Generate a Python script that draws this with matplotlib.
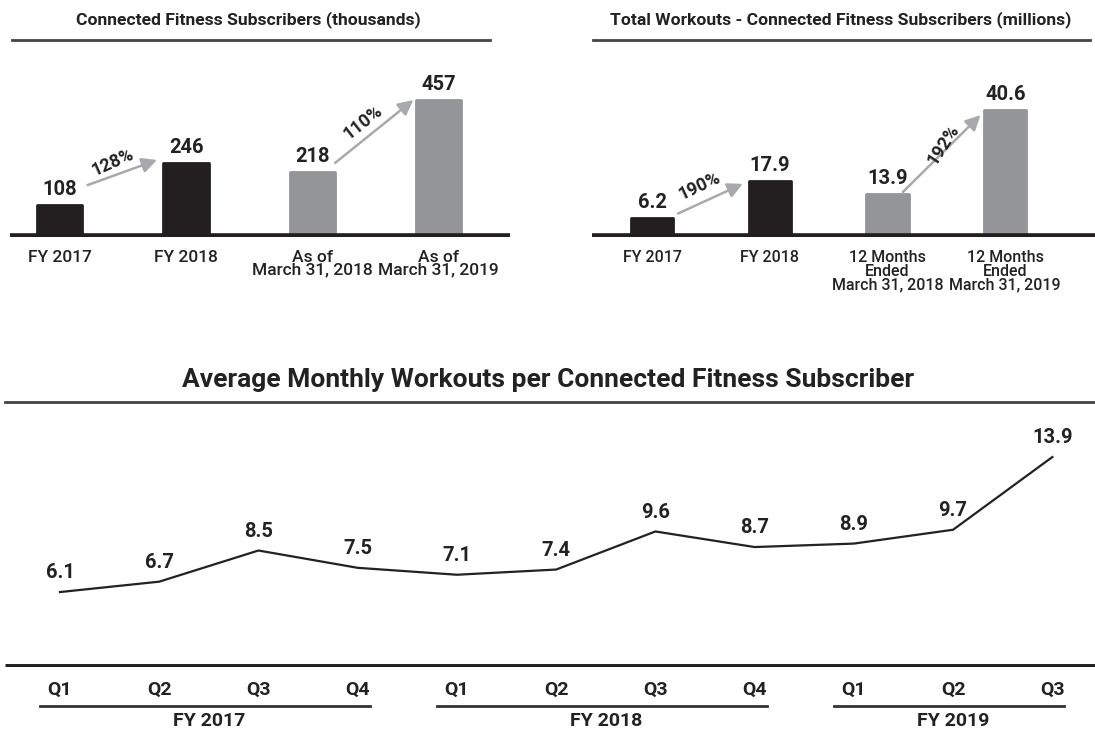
import matplotlib.pyplot as plt
import matplotlib.transforms as mtransforms

# --- 1. DATA ---
subs_labels = ['FY 2017', 'FY 2018', 'As of\nMarch 31, 2018', 'As of\nMarch 31, 2019']
subs_values = [108, 246, 218, 457]
subs_growth = ['128%', '110%']

workout_labels = ['FY 2017', 'FY 2018', '12 Months\nEnded\nMarch 31, 2018',
                  '12 Months\nEnded\nMarch 31, 2019']
workout_values = [6.2, 17.9, 13.9, 40.6]
workout_growth = ['190%', '192%']

quarters = ['Q1', 'Q2', 'Q3', 'Q4', 'Q1', 'Q2', 'Q3', 'Q4', 'Q1', 'Q2', 'Q3']
avg_workouts = [6.1, 6.7, 8.5, 7.5, 7.1, 7.4, 9.6, 8.7, 8.9, 9.7, 13.9]
fiscal_years = ['FY 2017', 'FY 2018', 'FY 2019']
quarters_per_year = [4, 4, 3]

# --- 2. STYLE ---
plt.rcParams['font.family'] = ['Roboto', 'DejaVu Sans']
DARK = '#231f20'
GREY = '#939598'
ARROW = '#a7a9ac'
TXT = '#222222'
bar_colors = [DARK, DARK, GREY, GREY]

W, H = 1095, 733
fig = plt.figure(figsize=(W / 100, H / 100), dpi=100)


def px_axes(x0, y0, x1, y1):
    return fig.add_axes([x0 / W, 1 - y1 / H, (x1 - x0) / W, (y1 - y0) / H])


def bar_panel(ax, labels, values, growth, ymax, xlim, line_span, arrows,
              label_size, spacing):
    x = range(len(values))
    ax.bar(x, values, width=0.36, color=bar_colors, edgecolor=bar_colors,
           linewidth=2, joinstyle='round', zorder=2)
    ax.set_xlim(*xlim)
    ax.set_ylim(0, ymax)
    for s in ax.spines.values():
        s.set_visible(False)
    ax.set_yticks([])
    ax.set_xticks(list(x))
    ax.set_xticklabels(labels, fontsize=label_size, color=TXT, linespacing=spacing,
                       fontweight='medium')
    ax.tick_params(axis='x', length=0, pad=9)
    ax.axhline(0, color=DARK, lw=5.5, zorder=3, solid_capstyle='butt')
    ax.plot(line_span, [1, 1], transform=ax.transAxes, clip_on=False,
            color='#444444', lw=2)
    for i, v in enumerate(values):
        ax.annotate(f'{v:g}', (i, v), xytext=(0, 11), textcoords='offset points',
                    ha='center', va='center', fontsize=14.5, fontweight='bold', color=TXT)
    for (i, j, sdx, sdy, edx, edy, tdx, tdy, rot), pct in zip(arrows, growth):
        ax.annotate('', xy=(j + edx, values[j] + edy), xytext=(i + sdx, values[i] + sdy),
                    arrowprops=dict(arrowstyle='-|>,head_length=0.9,head_width=0.45',
                                    color=ARROW, lw=1.8, shrinkA=0, shrinkB=0))
        ax.text(i + tdx, values[i] + tdy, pct, rotation=rot, ha='center', va='center',
                fontsize=13, fontweight='bold', color=TXT, rotation_mode='anchor')


# --- 3. TOP LEFT ---
ax1 = px_axes(10, 40, 510, 237)
bar_panel(ax1, subs_labels, subs_values, subs_growth, 657, (-0.394, 3.565), (0.004, 0.96),
          [(0, 1, 0.22, 65, -0.23, 11, 0.42, 140, 24),
           (2, 3, 0.18, 29, -0.2, 0, 0.4, 165, 38)], 12.5, 0.8)
fig.text(248 / W, 1 - 20 / H, 'Connected Fitness Subscribers (thousands)',
         ha='center', va='center', fontsize=12.6, fontweight='bold', color=TXT)

# --- 4. TOP RIGHT ---
ax2 = px_axes(592, 40, 1095, 237)
bar_panel(ax2, workout_labels, workout_values, workout_growth, 63, (-0.511, 3.762),
          (0.002, 0.99),
          [(0, 1, 0.22, 1.3, -0.23, -0.9, 0.4, 10.0, 25),
           (2, 3, 0.13, 0.5, -0.21, -1.6, 0.47, 15.5, 57)], 11.5, 0.92)
fig.text(841 / W, 1 - 20 / H, 'Total Workouts - Connected Fitness Subscribers (millions)',
         ha='center', va='center', fontsize=12.6, fontweight='bold', color=TXT)

# --- 5. BOTTOM LINE CHART ---
ax3 = px_axes(5, 402, 1095, 667)
xs = list(range(len(avg_workouts)))
ax3.plot(xs, avg_workouts, color=TXT, lw=1.6)
for xi, v in zip(xs, avg_workouts):
    ax3.annotate(f'{v:.1f}', (xi, v), xytext=(0, 14), textcoords='offset points',
                 ha='center', va='center', fontsize=14.5, fontweight='bold', color=TXT)
ax3.set_xlim(-0.554, 10.43)
ax3.set_ylim(1.77, 17.08)
for s in ax3.spines.values():
    s.set_visible(False)
ax3.set_yticks([])
ax3.set_xticks(xs)
ax3.set_xticklabels(quarters, fontsize=14, fontweight='bold', color=TXT)
ax3.tick_params(axis='x', length=0, pad=10)
ax3.axhline(ax3.get_ylim()[0], color=DARK, lw=5, solid_capstyle='butt')
ax3.plot([0, 1], [1, 1], transform=ax3.transAxes, clip_on=False, color='#444444', lw=2)

trans = mtransforms.blended_transform_factory(ax3.transData, ax3.transAxes)
start = 0
for fy, n in zip(fiscal_years, quarters_per_year):
    end = start + n - 1
    ax3.plot([start - 0.2, end + 0.12], [-0.147, -0.147], transform=trans,
             clip_on=False, color='#333333', lw=2)
    ax3.text((start + end) / 2, -0.205, fy, transform=trans, ha='center', va='center',
             fontsize=14, fontweight='bold', color=TXT)
    start += n

fig.text(548 / W, 1 - 380 / H, 'Average Monthly Workouts per Connected Fitness Subscriber',
         ha='center', va='center', fontsize=19, fontweight='bold', color=TXT)

fig.savefig('out.png', dpi=100)
